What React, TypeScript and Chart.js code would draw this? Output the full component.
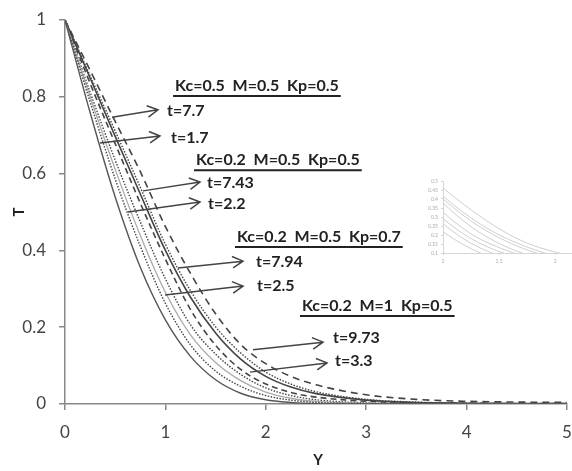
import React, { useEffect, useRef } from "react";
import { Chart, registerables } from "chart.js";
Chart.register(...registerables);

// ---- data ----
const yValues = [0, 0.25, 0.5, 0.75, 1, 1.25, 1.5, 1.75, 2, 2.25, 2.5, 3, 3.5, 4, 4.5, 5];
const curve1 = [1, 0.759, 0.539, 0.356, 0.219, 0.124, 0.063, 0.028, 0.011, 0.004, 0.001, 0, 0, 0, 0, 0];
const curve2 = [1, 0.787, 0.586, 0.411, 0.262, 0.154, 0.086, 0.046, 0.022, 0.01, 0.004, 0.001, 0, 0, 0, 0];
const curve3 = [1, 0.8, 0.611, 0.439, 0.291, 0.18, 0.108, 0.061, 0.031, 0.015, 0.007, 0.002, 0.001, 0, 0, 0];
const curve4 = [1, 0.812, 0.635, 0.474, 0.326, 0.206, 0.13, 0.077, 0.042, 0.022, 0.011, 0.003, 0.001, 0.001, 0, 0];
const curve5 = [1, 0.835, 0.678, 0.523, 0.377, 0.246, 0.153, 0.09, 0.052, 0.03, 0.018, 0.007, 0.003, 0.002, 0.001, 0.001];
const curve6 = [1, 0.849, 0.697, 0.547, 0.4, 0.278, 0.185, 0.117, 0.072, 0.044, 0.027, 0.01, 0.004, 0.002, 0.001, 0.001];
const curve7 = [1, 0.855, 0.711, 0.564, 0.416, 0.295, 0.201, 0.133, 0.083, 0.052, 0.032, 0.012, 0.005, 0.002, 0.001, 0.001];
const curve8 = [1, 0.869, 0.736, 0.605, 0.462, 0.34, 0.235, 0.155, 0.105, 0.072, 0.05, 0.024, 0.012, 0.007, 0.005, 0.004];

const xTickLabels = ["0", "1", "2", "3", "4", "5"];
const yTickLabels = ["0", "0.2", "0.4", "0.6", "0.8", "1"];
const insetXTickLabels = ["1", "1.5", "2"];
const insetYTickLabels = ["0.1", "0.15", "0.2", "0.25", "0.3", "0.35", "0.4", "0.45", "0.5"];

const headerLabels = [
  "Kc=0.5  M=0.5  Kp=0.5",
  "Kc=0.2  M=0.5  Kp=0.5",
  "Kc=0.2  M=0.5  Kp=0.7",
  "Kc=0.2  M=1  Kp=0.5",
];
const timeLabels = ["t=7.7", "t=1.7", "t=7.43", "t=2.2", "t=7.94", "t=2.5", "t=9.73", "t=3.3"];
const xTitle = "Y";
const yTitle = "T";

// annotation anchors in data coordinates
const headerAt = [
  [1.096, 0.828],
  [1.305, 0.635],
  [1.713, 0.435],
  [2.36, 0.255],
];
const timeAt = [
  [1.016, 0.763],
  [1.056, 0.693],
  [1.414, 0.576],
  [1.424, 0.521],
  [1.902, 0.37],
  [1.912, 0.307],
  [2.669, 0.172],
  [2.689, 0.112],
];
const arrowsAt = [
  [0.468, 0.747, 0.926, 0.766],
  [0.349, 0.68, 0.946, 0.698],
  [0.777, 0.555, 1.345, 0.578],
  [0.627, 0.5, 1.345, 0.526],
  [1.125, 0.354, 1.773, 0.372],
  [0.996, 0.284, 1.773, 0.307],
  [1.873, 0.141, 2.57, 0.161],
  [1.843, 0.083, 2.61, 0.107],
];

const curves = [curve1, curve2, curve3, curve4, curve5, curve6, curve7, curve8];
const styles = [
  { color: "#555", width: 1.4, dash: [] as number[] },
  { color: "#444", width: 1.4, dash: [1.5, 1.5] },
  { color: "#aaa", width: 1.3, dash: [] as number[] },
  { color: "#444", width: 1.4, dash: [1.5, 1.5] },
  { color: "#444", width: 1.6, dash: [6, 4] },
  { color: "#444", width: 1.6, dash: [] as number[] },
  { color: "#444", width: 1.4, dash: [1.5, 1.5] },
  { color: "#444", width: 1.6, dash: [7, 5] },
];

const FONT = "Lato, 'Open Sans', sans-serif";

function buildDatasets(inset: boolean) {
  return curves.map((c, i) => ({
    label: "c" + (i + 1),
    data: yValues.map((x, j) => ({ x, y: c[j] })),
    borderColor: inset ? "#c8c8c8" : styles[i].color,
    borderWidth: inset ? 0.9 : styles[i].width,
    borderDash: inset ? [] : styles[i].dash,
    pointRadius: 0,
    fill: false,
    cubicInterpolationMode: "monotone" as const,
  }));
}

const annotationPlugin = {
  id: "annot",
  afterDatasetsDraw(chart: any) {
    const ctx = chart.ctx;
    const xs = chart.scales.x;
    const ys = chart.scales.y;
    ctx.save();
    // arrows
    ctx.strokeStyle = "#444";
    ctx.lineWidth = 1.5;
    arrowsAt.forEach(([x0, y0, x1, y1]) => {
      const ax = xs.getPixelForValue(x0);
      const ay = ys.getPixelForValue(y0);
      const bx = xs.getPixelForValue(x1);
      const by = ys.getPixelForValue(y1);
      ctx.beginPath();
      ctx.moveTo(ax, ay);
      ctx.lineTo(bx, by);
      const ang = Math.atan2(by - ay, bx - ax);
      const L = 12;
      const spread = 0.5;
      ctx.moveTo(bx - L * Math.cos(ang - spread), by - L * Math.sin(ang - spread));
      ctx.lineTo(bx, by);
      ctx.lineTo(bx - L * Math.cos(ang + spread), by - L * Math.sin(ang + spread));
      ctx.stroke();
    });
    // headers
    ctx.fillStyle = "#222";
    ctx.font = "bold 16px " + FONT;
    ctx.textBaseline = "middle";
    ctx.textAlign = "left";
    headerLabels.forEach((t, i) => {
      const px = xs.getPixelForValue(headerAt[i][0]);
      const py = ys.getPixelForValue(headerAt[i][1]);
      ctx.fillText(t, px, py);
      const w = ctx.measureText(t).width;
      ctx.beginPath();
      ctx.strokeStyle = "#222";
      ctx.lineWidth = 2;
      ctx.moveTo(px - 2, py + 10);
      ctx.lineTo(px + w + 2, py + 10);
      ctx.stroke();
    });
    timeLabels.forEach((t, i) => {
      const px = xs.getPixelForValue(timeAt[i][0]);
      const py = ys.getPixelForValue(timeAt[i][1]);
      ctx.fillText(t, px, py);
    });
    // axis titles
    ctx.font = "bold 15px " + FONT;
    ctx.textAlign = "center";
    ctx.fillText(xTitle, (chart.chartArea.left + chart.chartArea.right) / 2 + 2, 460);
    ctx.translate(19, (chart.chartArea.top + chart.chartArea.bottom) / 2);
    ctx.rotate(-Math.PI / 2);
    ctx.fillText(yTitle, 0, 0);
    ctx.restore();
  },
};

function MainChart() {
  const ref = useRef<HTMLCanvasElement>(null);
  useEffect(() => {
    const chart = new Chart(ref.current as HTMLCanvasElement, {
      type: "line",
      data: { datasets: buildDatasets(false) as any },
      options: {
        animation: false,
        responsive: false,
        maintainAspectRatio: false,
        layout: { padding: { left: 0, right: 5, top: 20, bottom: 0 } },
        plugins: { legend: { display: false }, tooltip: { enabled: false } },
        scales: {
          x: {
            type: "linear",
            min: 0,
            max: 5,
            afterFit: (s: any) => {
              s.height = 67;
              s.paddingRight = 0;
              s.paddingLeft = 0;
            },
            ticks: {
              stepSize: 1,
              padding: 12,
              color: "#444",
              font: { family: FONT, size: 17 },
              callback: (v: any) => xTickLabels[Math.round(Number(v))],
            },
            grid: { drawOnChartArea: false, tickLength: 6, color: "#888", lineWidth: 1.5 },
            border: { color: "#888", width: 1.5 },
          },
          y: {
            type: "linear",
            min: 0,
            max: 1,
            afterFit: (s: any) => {
              s.width = 65;
              s.paddingTop = 0;
              s.paddingBottom = 0;
            },
            ticks: {
              stepSize: 0.2,
              padding: 13,
              color: "#444",
              font: { family: FONT, size: 17 },
              callback: (v: any) => yTickLabels[Math.round(Number(v) / 0.2)],
            },
            grid: { drawOnChartArea: false, tickLength: 6, color: "#888", lineWidth: 1.5 },
            border: { color: "#888", width: 1.5 },
          },
        },
      },
      plugins: [annotationPlugin],
    });
    return () => chart.destroy();
  }, []);
  return <canvas ref={ref} width={572} height={471} style={{ position: "absolute", left: 0, top: 0 }} />;
}

function InsetChart() {
  const ref = useRef<HTMLCanvasElement>(null);
  useEffect(() => {
    const chart = new Chart(ref.current as HTMLCanvasElement, {
      type: "line",
      data: { datasets: buildDatasets(true) as any },
      options: {
        animation: false,
        responsive: false,
        maintainAspectRatio: false,
        layout: { padding: { left: 0, right: 0, top: 11, bottom: 0 } },
        plugins: { legend: { display: false }, tooltip: { enabled: false } },
        scales: {
          x: {
            type: "linear",
            min: 1,
            max: 2.15,
            afterFit: (s: any) => {
              s.height = 17;
              s.paddingRight = 0;
              s.paddingLeft = 0;
            },
            ticks: {
              stepSize: 0.5,
              includeBounds: false,
              padding: 3,
              color: "#aaa",
              font: { family: FONT, size: 5 },
              callback: (v: any) => insetXTickLabels[Math.round((Number(v) - 1) / 0.5)],
            },
            grid: { drawOnChartArea: false, tickLength: 2, color: "#ccc", lineWidth: 0.8 },
            border: { color: "#ccc", width: 0.8 },
          },
          y: {
            type: "linear",
            min: 0.1,
            max: 0.5,
            afterFit: (s: any) => {
              s.width = 23;
              s.paddingTop = 0;
              s.paddingBottom = 0;
            },
            ticks: {
              stepSize: 0.05,
              padding: 3,
              color: "#aaa",
              font: { family: FONT, size: 5 },
              callback: (v: any) => insetYTickLabels[Math.round((Number(v) - 0.1) / 0.05)],
            },
            grid: { drawOnChartArea: false, tickLength: 2, color: "#ccc", lineWidth: 0.8 },
            border: { color: "#ccc", width: 0.8 },
          },
        },
      },
    });
    return () => chart.destroy();
  }, []);
  return <canvas ref={ref} width={152} height={100} style={{ position: "absolute", left: 420, top: 170 }} />;
}

export default function App() {
  useEffect(() => {
    document.body.style.margin = "0";
  }, []);
  return (
    <div style={{ position: "absolute", left: 0, top: 0, width: 572, height: 471, background: "#fff", overflow: "hidden" }}>
      <MainChart />
      <InsetChart />
    </div>
  );
}
